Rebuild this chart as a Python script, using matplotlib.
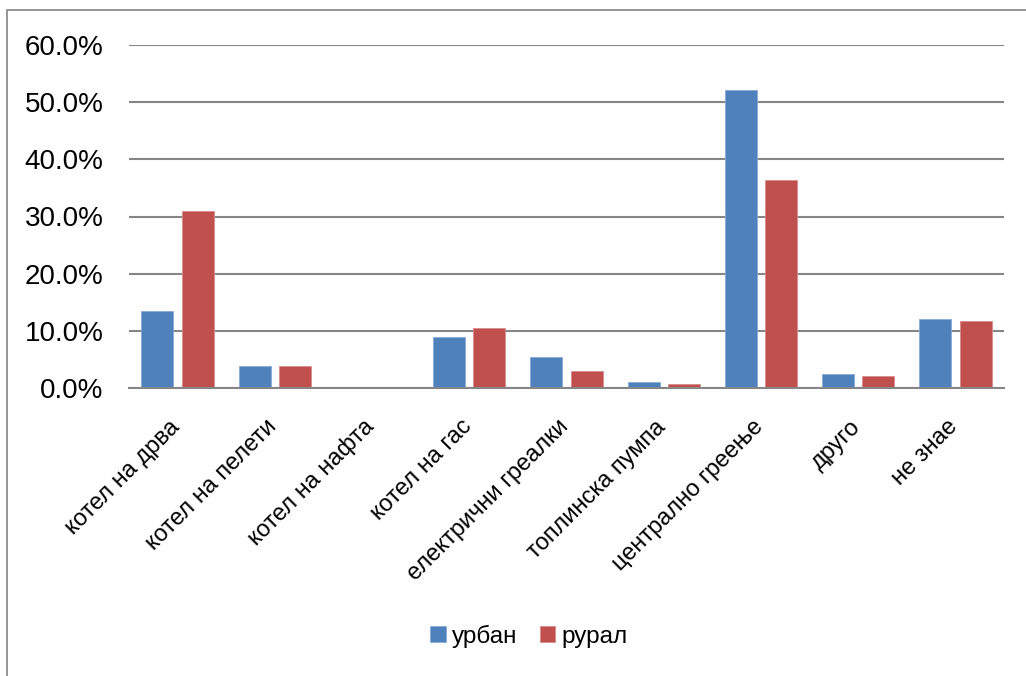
import matplotlib
matplotlib.use("Agg")
import matplotlib.pyplot as plt
from matplotlib.patches import Rectangle
from matplotlib.ticker import FuncFormatter, MultipleLocator
from matplotlib.transforms import ScaledTranslation
import numpy as np

# Heating type by settlement (share of households)
categories = ["котел на дрва", "котел на пелети", "котел на нафта", "котел на гас",
              "електрични греалки", "топлинска пумпа", "централно греење", "друго", "не знае"]
urban = [13.5, 3.9, 0.0, 9.0, 5.35, 1.05, 52.1, 2.5, 12.05]
rural = [31.0, 3.9, 0.1, 10.5, 3.0, 0.65, 36.4, 2.15, 11.7]
series_names = ["урбан", "рурал"]
colors = ["#4F81BD", "#C0504D"]

FONT = ["Liberation Sans Narrow", "Liberation Sans", "DejaVu Sans"]
plt.rcParams["font.family"] = FONT

W, H = 1026, 676
fig = plt.figure(figsize=(W / 100, H / 100), dpi=100)

# chart-area frame
fig.patches.append(Rectangle((7 / W, -0.1), 1.2, 1 - 10 / H + 0.1, transform=fig.transFigure,
                             fill=False, edgecolor="#8C8C8C", linewidth=1.3))

ax = fig.add_axes([129 / W, 1 - 388 / H, (1004 - 129) / W, (388 - 45) / H])
x = np.arange(len(categories))
bw = 0.33
gap = 0.085
ax.bar(x - (bw + gap) / 2, urban, bw, color=colors[0], edgecolor="#8AAAD6", linewidth=0.6,
       label=series_names[0], zorder=3)
ax.bar(x + (bw + gap) / 2, rural, bw, color=colors[1], edgecolor="#D98B89", linewidth=0.6,
       label=series_names[1], zorder=3)

ax.set_xlim(-0.5, len(categories) - 0.5)
ax.set_ylim(0, 60)
ax.yaxis.set_major_locator(MultipleLocator(10))
ax.yaxis.set_major_formatter(FuncFormatter(lambda v, p: f"{v:.1f}%"))
ax.grid(axis="y", color="#868686", linewidth=1.5, zorder=0)
for s in ["top", "right", "left"]:
    ax.spines[s].set_visible(False)
ax.spines["bottom"].set_color("#868686")
ax.spines["bottom"].set_linewidth(1.5)
ax.spines["bottom"].set_zorder(4)
ax.tick_params(axis="y", length=0, pad=18.5, labelsize=20, labelcolor="#000000")
ax.tick_params(axis="x", length=0)

ax.set_xticks(x)
ax.set_xticklabels(categories, rotation=45, ha="right", va="top", rotation_mode="anchor",
                   fontsize=17)
ax.tick_params(axis="x", pad=20)
shift = ScaledTranslation(-9 / 100, 0, fig.dpi_scale_trans)
for lbl in ax.get_xticklabels():
    lbl.set_transform(lbl.get_transform() + shift)

leg = fig.legend(loc="center", bbox_to_anchor=(529 / W, 1 - 636 / H), ncol=2, frameon=False,
                 fontsize=17.5, handlelength=0.62, handleheight=0.62, handletextpad=0.28,
                 columnspacing=0.9)

fig.savefig("out.png", dpi=100, facecolor="white")
